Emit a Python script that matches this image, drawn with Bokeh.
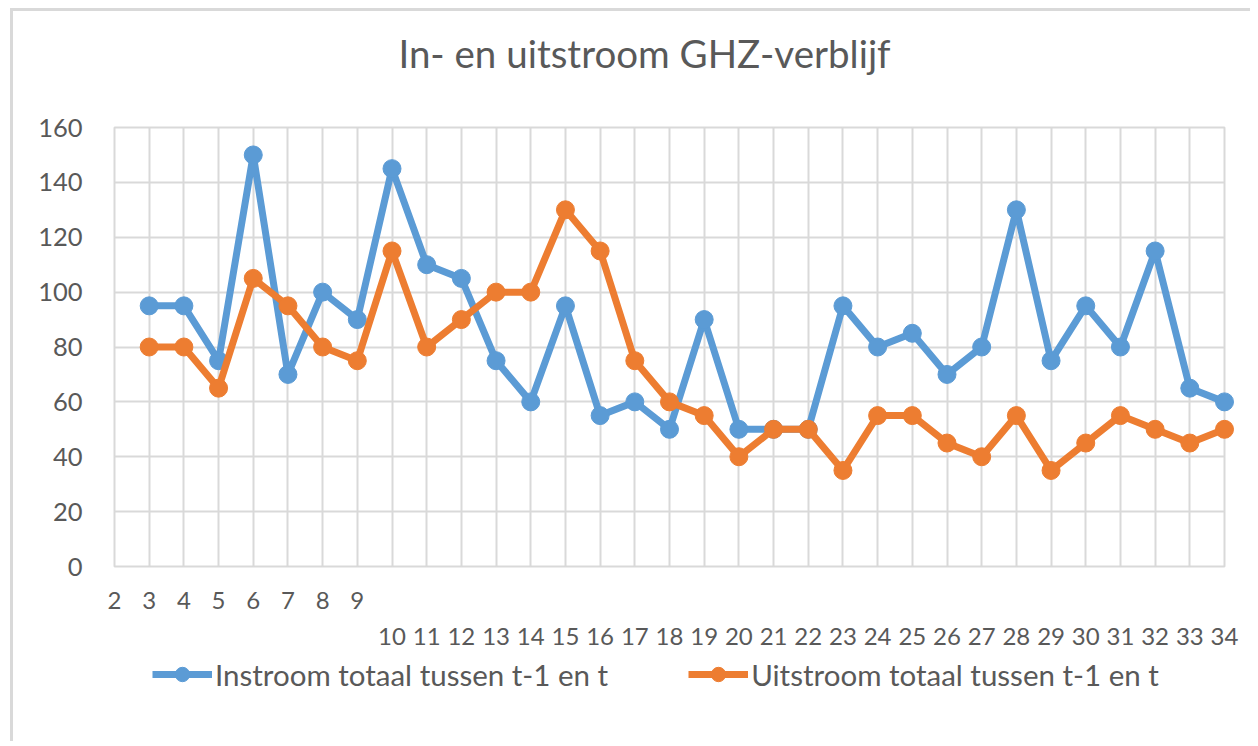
from bokeh.plotting import figure
from bokeh.layouts import column
from bokeh.models import (Range1d, FixedTicker, CustomJSTickFormatter, Legend, LegendItem,
                          ColumnDataSource, Label)
from bokeh.embed import file_html
from bokeh.resources import INLINE

# ---- data ----
weeks = list(range(3, 35))
instroom = [95, 95, 75, 150, 70, 100, 90, 145, 110, 105, 75, 60, 95, 55, 60, 50,
            90, 50, 50, 50, 95, 80, 85, 70, 80, 130, 75, 95, 80, 115, 65, 60]
uitstroom = [80, 80, 65, 105, 95, 80, 75, 115, 80, 90, 100, 100, 130, 115, 75, 60,
             55, 40, 50, 50, 35, 55, 55, 45, 40, 55, 35, 45, 55, 50, 45, 50]
x_ticks = list(range(2, 35))
y_ticks = [0, 20, 40, 60, 80, 100, 120, 140, 160]
title_text = "In- en uitstroom GHZ-verblijf"
names = ["Instroom totaal tussen t-1 en t", "Uitstroom totaal tussen t-1 en t"]
colors = ["#5B9BD5", "#ED7D31"]

TXT = "#595959"
FONT = "Lato"
GRID = "#d9d9d9"
W = 1237


def bare(fig):
    fig.axis.visible = False
    fig.grid.visible = False
    fig.outline_line_color = None


# ---- title strip ----
tf = figure(width=W, height=98, output_backend="svg", toolbar_location=None,
            x_range=Range1d(0, 1), y_range=Range1d(0, 1),
            min_border_left=0, min_border_right=0, min_border_top=0, min_border_bottom=0)
bare(tf)
tf.add_layout(Label(x=530, y=57, x_units="screen", y_units="screen", text=title_text,
                    text_align="center", text_baseline="middle", text_font=FONT,
                    text_font_size="38.5px", text_color=TXT))

# ---- main chart ----
p = figure(width=W, height=547, output_backend="svg", toolbar_location=None,
           x_range=Range1d(x_ticks[0], x_ticks[-1]), y_range=Range1d(y_ticks[0], y_ticks[-1]),
           min_border_left=101, min_border_right=26, min_border_top=18, min_border_bottom=90)

p.outline_line_color = GRID
p.outline_line_width = 2

p.xgrid.ticker = FixedTicker(ticks=x_ticks)
p.ygrid.ticker = FixedTicker(ticks=y_ticks)
for g in (p.xgrid, p.ygrid):
    g.grid_line_color = GRID
    g.grid_line_width = 2

xa = p.xaxis[0]
xa.ticker = FixedTicker(ticks=x_ticks)
xa.formatter = CustomJSTickFormatter(code="return tick >= 10 ? '\\n' + tick : '' + tick;")
ya = p.yaxis[0]
ya.ticker = FixedTicker(ticks=y_ticks)
for ax in (xa, ya):
    ax.axis_line_color = None
    ax.major_tick_line_color = None
    ax.minor_tick_line_color = None
    ax.major_tick_out = 0
    ax.major_tick_in = 0
    ax.minor_tick_out = 0
    ax.major_label_text_font = FONT
    ax.major_label_text_color = TXT
xa.major_label_text_font_size = "24px"
xa.major_label_text_line_height = 1.25
xa.major_label_standoff = 18
ya.major_label_text_font_size = "25.5px"
ya.major_label_standoff = 32

srcs = []
for vals, col in zip((instroom, uitstroom), colors):
    src = ColumnDataSource(dict(x=weeks, y=vals))
    srcs.append(src)
    p.line("x", "y", source=src, line_color=col, line_width=7, level="overlay")
    p.scatter("x", "y", source=src, size=18, fill_color=col, line_color=col, level="overlay")

# ---- legend strip (same series; its view range lies outside the data) ----
lf = figure(width=W, height=85, output_backend="svg", toolbar_location=None,
            x_range=Range1d(1000, 1001), y_range=Range1d(1000, 1001),
            min_border_left=0, min_border_right=0, min_border_top=0, min_border_bottom=0)
bare(lf)
items = []
for src, name, col in zip(srcs, names, colors):
    r1 = lf.line("x", "y", source=src, line_color=col, line_width=7)
    r2 = lf.scatter("x", "y", source=src, size=18, fill_color=col, line_color=col)
    items.append(LegendItem(label=name, renderers=[r1, r2]))
leg = Legend(items=items, orientation="horizontal", location=(38, 49),
             label_text_font=FONT, label_text_font_size="29.5px", label_text_color=TXT,
             glyph_width=60, glyph_height=36, label_standoff=3, spacing=80,
             padding=0, margin=0, border_line_color=None, background_fill_alpha=0)
lf.add_layout(leg, "center")

layout = column(tf, p, lf, spacing=0,
                styles={"border-top": "3px solid #d9d9d9", "border-left": "3px solid #d9d9d9",
                        "margin-left": "10px", "margin-top": "8px"})

open("out.html", "w").write(file_html(layout, INLINE))
